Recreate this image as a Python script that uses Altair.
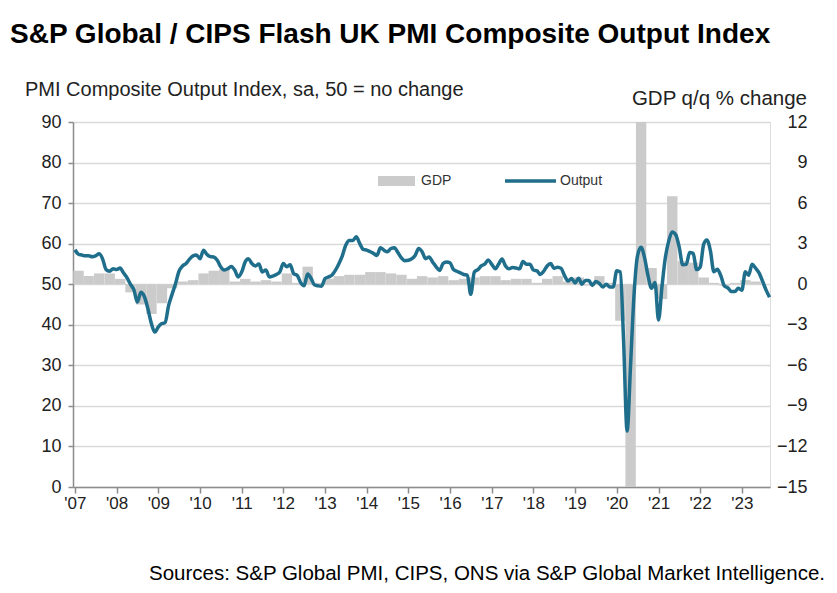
import altair as alt
import pandas as pd

# ---- Monthly PMI Composite Output Index (Jan 2007 - Sep 2023) ----
out_2007 = [58.5, 57.4, 57.2, 57.0, 57.0, 56.8, 57.0, 57.5, 56.2, 53.6, 53.2, 53.8]
out_2008 = [53.6, 54.0, 52.8, 51.6, 50.0, 48.6, 45.6, 48.0, 46.9, 44.0, 40.3, 38.2]
out_2009 = [39.5, 40.3, 40.5, 44.8, 47.5, 50.2, 53.2, 54.5, 55.1, 56.2, 57.0, 57.2]
out_2010 = [56.3, 58.4, 57.4, 56.8, 56.7, 55.9, 54.3, 53.5, 53.8, 54.4, 53.5, 51.8]
out_2011 = [53.0, 55.5, 56.3, 55.1, 54.5, 55.0, 53.0, 53.5, 51.8, 52.0, 52.4, 53.0]
out_2012 = [55.1, 54.3, 54.8, 52.6, 52.2, 50.4, 49.6, 52.5, 51.4, 49.8, 49.6, 49.5]
out_2013 = [51.4, 51.8, 52.2, 53.4, 55.0, 57.0, 59.6, 60.8, 60.8, 61.7, 60.0, 58.6]
out_2014 = [58.4, 58.0, 57.6, 57.1, 59.0, 58.4, 58.0, 58.8, 59.0, 57.8, 56.5, 55.8]
out_2015 = [55.9, 56.3, 57.1, 58.8, 58.0, 56.3, 56.7, 55.5, 54.3, 53.4, 55.1, 55.5]
out_2016 = [55.3, 53.6, 53.2, 52.8, 52.4, 52.2, 47.5, 53.0, 53.6, 54.5, 55.0, 56.0]
out_2017 = [54.9, 53.8, 54.9, 56.2, 54.5, 53.8, 54.1, 54.0, 53.8, 55.6, 54.9, 54.9]
out_2018 = [53.5, 53.3, 52.4, 53.2, 54.5, 55.1, 53.9, 54.2, 53.9, 52.1, 50.8, 51.4]
out_2019 = [50.3, 51.5, 50.0, 50.9, 50.9, 49.7, 50.7, 50.2, 49.3, 50.0, 49.3, 49.3]
out_2020 = [53.3, 53.0, 36.0, 13.8, 30.0, 47.7, 57.0, 59.1, 56.5, 52.1, 49.0, 50.4]
out_2021 = [41.2, 49.6, 56.4, 60.7, 62.9, 62.2, 59.2, 54.8, 54.9, 57.8, 57.6, 53.6]
out_2022 = [54.2, 59.9, 60.9, 58.2, 53.1, 53.7, 52.1, 49.6, 49.1, 48.2, 48.2, 49.0]
out_2023 = [48.5, 53.1, 52.2, 54.9, 54.0, 52.8, 50.8, 48.6, 46.8]

# ---- Quarterly GDP q/q % change (Q1 2007 - Q2 2023) ----
gdp_2007 = [1.0, 0.6, 0.8, 0.8]
gdp_2008 = [0.4, -0.6, -1.5, -2.2]
gdp_2009 = [-1.4, -0.3, 0.2, 0.3]
gdp_2010 = [0.8, 1.0, 1.1, 0.2]
gdp_2011 = [0.4, 0.2, 0.3, 0.2]
gdp_2012 = [0.8, 0.1, 1.3, 0.1]
gdp_2013 = [0.4, 0.6, 0.7, 0.7]
gdp_2014 = [0.9, 0.9, 0.8, 0.7]
gdp_2015 = [0.4, 0.6, 0.5, 0.6]
gdp_2016 = [0.3, 0.4, 0.5, 0.6]
gdp_2017 = [0.6, 0.3, 0.4, 0.4]
gdp_2018 = [0.1, 0.4, 0.6, 0.2]
gdp_2019 = [0.5, -0.1, 0.6, 0.1]
gdp_2020 = [-2.7, -21.0, 16.9, 1.2]
gdp_2021 = [-1.1, 6.5, 1.7, 1.6]
gdp_2022 = [0.5, 0.1, -0.1, 0.1]
gdp_2023 = [0.3, 0.2]

year_labels = list(range(2007, 2024))

output = (out_2007 + out_2008 + out_2009 + out_2010 + out_2011 + out_2012 + out_2013
          + out_2014 + out_2015 + out_2016 + out_2017 + out_2018 + out_2019 + out_2020
          + out_2021 + out_2022 + out_2023)
gdp = (gdp_2007 + gdp_2008 + gdp_2009 + gdp_2010 + gdp_2011 + gdp_2012 + gdp_2013
       + gdp_2014 + gdp_2015 + gdp_2016 + gdp_2017 + gdp_2018 + gdp_2019 + gdp_2020
       + gdp_2021 + gdp_2022 + gdp_2023)

months = pd.date_range("2007-01-01", periods=len(output), freq="MS")
df_line = pd.DataFrame({"date": months.strftime("%Y-%m-%d"), "Output": output})

quarters = pd.date_range("2007-01-01", periods=len(gdp), freq="QS")
mid = quarters + pd.DateOffset(months=1)
df_bar = pd.DataFrame({
    "start": (mid - pd.Timedelta(days=45)).strftime("%Y-%m-%d"),
    "end": (mid + pd.Timedelta(days=46)).strftime("%Y-%m-%d"),
    "GDP": gdp,
})

FONT = "Liberation Sans"
LINE_COLOR = "#1f6e8c"
BAR_COLOR = "#cbcbcb"
AXIS_COLOR = "#8c8c8c"

x_scale = alt.Scale(domain=["2006-12-15", "2023-09-05"])
x_axis = alt.Axis(
    format="'%y",
    values=[alt.DateTime(year=y, month=1, date=1) for y in year_labels],
    tickSize=6, tickColor=AXIS_COLOR, tickWidth=1.5,
    domainColor=AXIS_COLOR, domainWidth=1.5,
    labelFontSize=17, labelColor="#222222", labelPadding=2,
    labelFlush=False, labelOverlap=False, grid=False, title=None,
)

bars = alt.Chart(df_bar).mark_rect(color=BAR_COLOR, clip=True).encode(
    x=alt.X("start:T", scale=x_scale, axis=x_axis),
    x2="end:T",
    y=alt.Y("GDP:Q",
            scale=alt.Scale(domain=[-15, 12], nice=False, zero=False),
            axis=alt.Axis(orient="right", values=list(range(-15, 13, 3)),
                          domain=False, ticks=False, grid=False,
                          labelAlign="right", labelPadding=37,
                          labelFontSize=18, labelColor="#222222", title=None)),
    y2=alt.Y2(datum=0),
)

line = alt.Chart(df_line).mark_line(
    color=LINE_COLOR, strokeWidth=3.5, interpolate="monotone"
).encode(
    x=alt.X("date:T", scale=x_scale, axis=x_axis),
    y=alt.Y("Output:Q",
            scale=alt.Scale(domain=[0, 90], nice=False),
            axis=alt.Axis(orient="left", values=list(range(0, 91, 10)),
                          domain=True, domainColor=AXIS_COLOR, domainWidth=1.5,
                          ticks=True, tickSize=5, tickColor=AXIS_COLOR, tickWidth=1.5,
                          grid=True, gridColor="#d9d9d9", gridWidth=1.5,
                          labelFontSize=18, labelColor="#222222", labelPadding=7,
                          title=None)),
)

one = pd.DataFrame({"k": [0]})

legend_rect = alt.Chart(one).mark_rect(color=BAR_COLOR).encode(
    x=alt.value(305), x2=alt.value(342), y=alt.value(54), y2=alt.value(64))
legend_gdp = alt.Chart(one).mark_text(
    text="GDP", font=FONT, fontSize=14, align="left", baseline="middle", color="#333333"
).encode(x=alt.value(348), y=alt.value(59))
legend_rule = alt.Chart(one).mark_rule(color=LINE_COLOR, strokeWidth=3.5).encode(
    x=alt.value(432), x2=alt.value(483), y=alt.value(59))
legend_out = alt.Chart(one).mark_text(
    text="Output", font=FONT, fontSize=14, align="left", baseline="middle", color="#333333"
).encode(x=alt.value(487), y=alt.value(59))

title = alt.Chart(one).mark_text(
    text="S&P Global / CIPS Flash UK PMI Composite Output Index",
    font=FONT, fontSize=28, fontWeight="bold", align="left", baseline="alphabetic",
    color="#000000"
).encode(x=alt.value(-63), y=alt.value(-79))
left_title = alt.Chart(one).mark_text(
    text="PMI Composite  Output  Index, sa, 50 = no change",
    font=FONT, fontSize=20, align="left", baseline="middle", color="#222222"
).encode(x=alt.value(-48), y=alt.value(-32))
right_title = alt.Chart(one).mark_text(
    text="GDP q/q % change",
    font=FONT, fontSize=20.5, align="right", baseline="middle", color="#222222"
).encode(x=alt.value(734), y=alt.value(-23))
source = alt.Chart(one).mark_text(
    text="Sources: S&P Global PMI, CIPS, ONS via S&P Global Market Intelligence.",
    font=FONT, fontSize=20.5, align="right", baseline="middle", color="#000000"
).encode(x=alt.value(752), y=alt.value(452))

chart = alt.layer(
    bars, line, legend_rect, legend_gdp, legend_rule, legend_out,
    title, left_title, right_title, source
).resolve_scale(y="independent").properties(
    width=697, height=365,
    autosize=alt.AutoSizeParams(type="none"),
    padding={"left": 65, "top": 114, "right": 55, "bottom": 98},
).configure_view(stroke=None).configure(font=FONT).configure_axis(labelFont=FONT)

chart.save("out.html", embed_options={"renderer": "svg", "actions": False})
